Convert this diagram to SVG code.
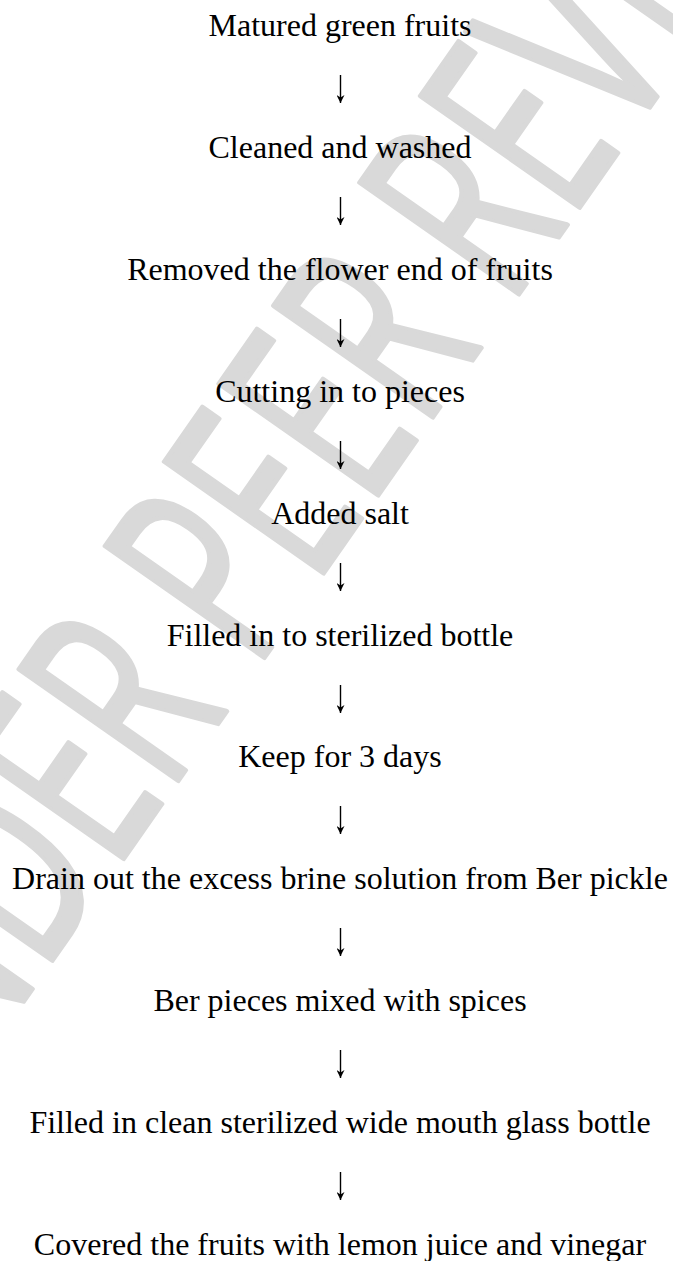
<svg xmlns="http://www.w3.org/2000/svg" width="673" height="1261" viewBox="0 0 673 1261">
<style>
.t{font-family:"Liberation Serif","Times New Roman",serif;font-size:32px;fill:#000;text-anchor:middle}
.wm{font-family:"Open Sans","Noto Sans",sans-serif;font-size:272px;font-weight:400;fill:#d9d9d9;stroke:#d9d9d9;stroke-width:5;stroke-linejoin:round;text-anchor:middle}
.c{stroke:#000;stroke-width:1.4;fill:none;marker-end:url(#ah)}
</style>
<defs>
<marker id="ah" viewBox="0 0 8 8" refX="8" refY="4" markerWidth="8" markerHeight="8" markerUnits="userSpaceOnUse" orient="auto">
<path d="M0,0 L8,4 L0,8 L2.5,4 Z" fill="#000"/>
</marker>
</defs>
<rect width="673" height="1261" fill="#fff"/>
<g id="watermark">
<text class="wm" transform="translate(376,498) rotate(-55) scale(0.63,1)">UNDER PEER REVIEW</text>
</g>
<g id="connectors">
<line class="c" x1="340.5" y1="75" x2="340.5" y2="103"/>
<line class="c" x1="340.5" y1="197" x2="340.5" y2="225"/>
<line class="c" x1="340.5" y1="319" x2="340.5" y2="347"/>
<line class="c" x1="340.5" y1="441" x2="340.5" y2="469"/>
<line class="c" x1="340.5" y1="563" x2="340.5" y2="591"/>
<line class="c" x1="340.5" y1="685" x2="340.5" y2="713"/>
<line class="c" x1="340.5" y1="806" x2="340.5" y2="834"/>
<line class="c" x1="340.5" y1="928" x2="340.5" y2="956"/>
<line class="c" x1="340.5" y1="1050" x2="340.5" y2="1078"/>
<line class="c" x1="340.5" y1="1172" x2="340.5" y2="1200"/>
</g>
<g id="n1"><text class="t" x="340" y="36">Matured green fruits</text></g>
<g id="n2"><text class="t" x="340" y="158">Cleaned and washed</text></g>
<g id="n3"><text class="t" x="340" y="280">Removed the flower end of fruits</text></g>
<g id="n4"><text class="t" x="340" y="402">Cutting in to pieces</text></g>
<g id="n5"><text class="t" x="340" y="524">Added salt</text></g>
<g id="n6"><text class="t" x="340" y="646">Filled in to sterilized bottle</text></g>
<g id="n7"><text class="t" x="340" y="767">Keep for 3 days</text></g>
<g id="n8"><text class="t" x="340" y="889">Drain out the excess brine solution from Ber pickle</text></g>
<g id="n9"><text class="t" x="340" y="1011">Ber pieces mixed with spices</text></g>
<g id="n10"><text class="t" x="340" y="1133">Filled in clean sterilized wide mouth glass bottle</text></g>
<g id="n11"><text class="t" x="340" y="1255">Covered the fruits with lemon juice and vinegar</text></g>
</svg>
